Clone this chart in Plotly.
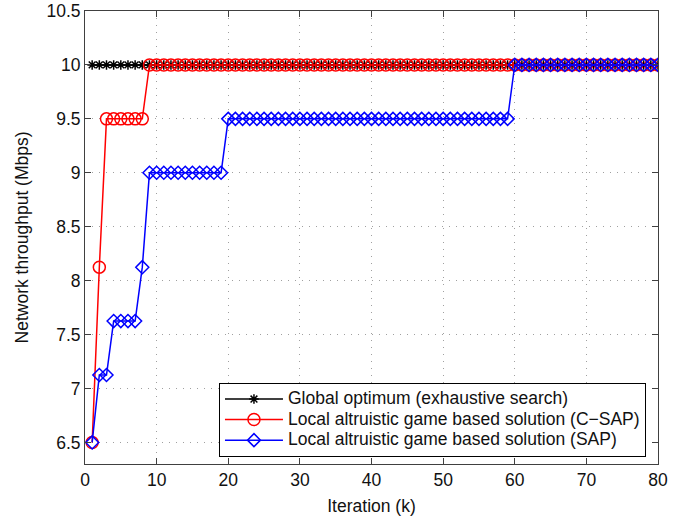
import plotly.graph_objects as go

# Iteration index k = 1..80
iterations = list(range(1, 81))

# Network throughput (Mbps) per iteration
global_optimum = [10.0] * 80
csap = [6.5, 8.125] + [9.5] * 6 + [10.0] * 72
sap = [6.5, 7.125, 7.125] + [7.625] * 4 + [8.125] + [9.0] * 11 + [9.5] * 40 + [10.0] * 21

series_names = [
    "Global optimum (exhaustive search)",
    "Local altruistic game based solution (C\u2212SAP)",
    "Local altruistic game based solution (SAP)",
]

x_ticks = [0, 10, 20, 30, 40, 50, 60, 70, 80]
y_ticks = [6.5, 7, 7.5, 8, 8.5, 9, 9.5, 10, 10.5]

FONT = "Liberation Sans, Arial, sans-serif"
TEXT_COLOR = "#111"


def legend_label(text):
    # larger glyphs than the legend's row spacing font, for a compact legend box
    return f'<span style="font-size:17.5px">{text}</span>'


fig = go.Figure()
fig.add_trace(go.Scatter(
    x=iterations, y=global_optimum, name=legend_label(series_names[0]), mode="lines+markers",
    line=dict(color="black", width=1.5),
    marker=dict(symbol="asterisk-open", size=8, line=dict(color="black", width=1.5)),
))
fig.add_trace(go.Scatter(
    x=iterations, y=csap, name=legend_label(series_names[1]), mode="lines+markers",
    line=dict(color="#ff0000", width=1.5),
    marker=dict(symbol="circle-open", size=12, color="#ff0000", line=dict(color="#ff0000", width=1.5)),
))
fig.add_trace(go.Scatter(
    x=iterations, y=sap, name=legend_label(series_names[2]), mode="lines+markers",
    line=dict(color="#0000ff", width=1.5),
    marker=dict(symbol="diamond-open", size=10, color="#0000ff", line=dict(color="#0000ff", width=1.5)),
))

axis_common = dict(
    showline=True, linecolor="#404040", linewidth=1, mirror="ticks",
    ticks="inside", ticklen=6, tickcolor="#404040",
    showgrid=True, gridcolor="#a0a0a0", gridwidth=1, griddash="1px,6px",
    zeroline=False, tickfont=dict(size=17.5, color=TEXT_COLOR), automargin=False,
)

fig.update_xaxes(range=[0, 80], tickvals=x_ticks,
                 title=dict(text="Iteration (k)", font=dict(size=17.5, color=TEXT_COLOR), standoff=10),
                 **axis_common)
fig.update_yaxes(range=[6.3, 10.5], tickvals=y_ticks, ticktext=[f"{v:g}" for v in y_ticks],
                 **axis_common)

# y-axis title placed closer to the edge of the figure
fig.add_annotation(
    text="Network throughput (Mbps)", textangle=-90,
    xref="paper", yref="paper", x=-0.11, y=0.5, xanchor="center", yanchor="middle",
    showarrow=False, font=dict(size=17.5, color=TEXT_COLOR),
)

fig.update_layout(
    width=685, height=518,
    margin=dict(l=85, r=27, t=11, b=54),
    paper_bgcolor="white", plot_bgcolor="white",
    font=dict(family=FONT, size=17.5, color=TEXT_COLOR),
    legend=dict(
        x=0.979, y=0.016, xanchor="right", yanchor="bottom",
        bgcolor="white", bordercolor="black", borderwidth=1,
        font=dict(size=13.5, color=TEXT_COLOR), itemwidth=58, tracegroupgap=0,
    ),
    showlegend=True,
)

fig.write_html("out.html")
